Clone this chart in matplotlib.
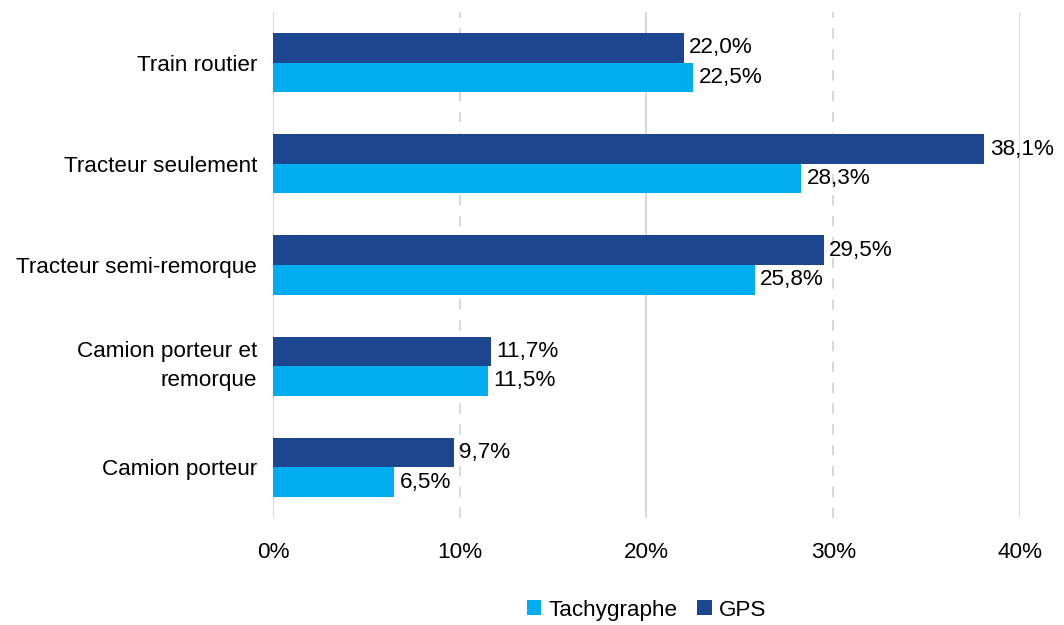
import matplotlib.pyplot as plt
import numpy as np

plt.rcParams['font.family'] = ['Liberation Sans', 'DejaVu Sans']

# Categories from top to bottom
categories = ['Train routier', 'Tracteur seulement', 'Tracteur semi-remorque',
              'Camion porteur et\nremorque', 'Camion porteur']
gps = [22.0, 38.1, 29.5, 11.7, 9.7]
tachygraphe = [22.5, 28.3, 25.8, 11.5, 6.5]
ticks = [0, 10, 20, 30, 40]

col_gps = '#1d4690'
col_tachy = '#00aeef'
fs = 16.2

fig = plt.figure(figsize=(10.64, 6.25), dpi=100)
ax = fig.add_axes([0.2566, 0.1712, 0.702, 0.8096])

y = np.arange(len(categories))
h = 0.292
b_gps = ax.barh(y - h / 2, gps, height=h, color=col_gps, label='GPS', zorder=3)
b_tac = ax.barh(y + h / 2, tachygraphe, height=h, color=col_tachy, label='Tachygraphe', zorder=3)

# Value labels with comma decimals
for bars, vals in ((b_gps, gps), (b_tac, tachygraphe)):
    for rect, v in zip(bars, vals):
        ax.text(v + 0.28, rect.get_y() + rect.get_height() / 2,
                f'{v:.1f}%'.replace('.', ','), va='center', ha='left', fontsize=fs)

ax.set_ylim(len(categories) - 0.5, -0.5)
ax.set_xlim(0, 40)
ax.set_yticks(y)
ax.set_yticklabels(categories, fontsize=fs, linespacing=1.5)
for lab in ax.get_yticklabels():
    if '\n' in lab.get_text():
        lab.set_va('center')
ax.set_xticks(ticks)
ax.set_xticklabels([f'{t}%' for t in ticks], fontsize=fs)
ax.tick_params(axis='both', length=0)
ax.tick_params(axis='y', pad=11.5)
ax.tick_params(axis='x', pad=17)

for s in ax.spines.values():
    s.set_visible(False)

# Solid lines at even tens, dashed at odd tens
for t in ticks:
    ls = (0, (5, 5)) if t % 20 == 10 else '-'
    ax.axvline(t, color='#d9d9d9', lw=1.5, ls=ls, zorder=1)

handles = [b_tac, b_gps]
ax.legend(handles=handles, labels=['Tachygraphe', 'GPS'], loc='center',
          bbox_to_anchor=(0.5, -0.182), ncol=2, frameon=False, fontsize=fs,
          handlelength=0.65, handleheight=0.65, handletextpad=0.3, columnspacing=0.9)

plt.savefig('out.png')
